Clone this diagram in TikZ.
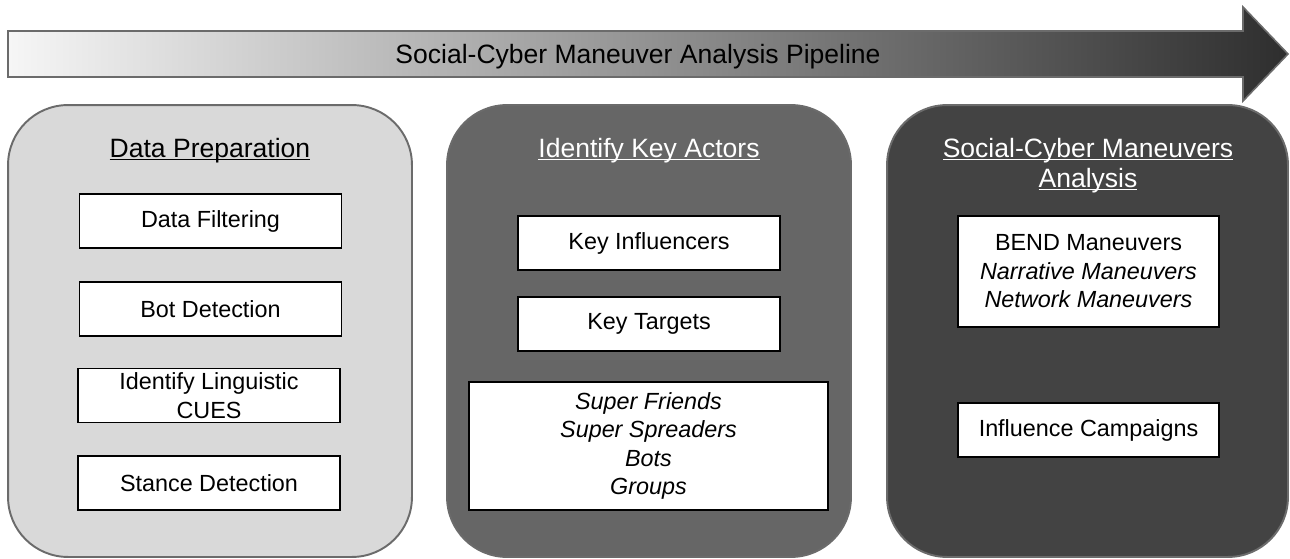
\documentclass[tikz,border=0pt]{standalone}
\usepackage{fontspec}
\setmainfont{Liberation Sans}
\usetikzlibrary{positioning}
\definecolor{prepfill}{HTML}{D9D9D9}
\definecolor{actorfill}{HTML}{666666}
\definecolor{manfill}{HTML}{434343}
\definecolor{rimgray}{HTML}{6B6B6B}
\definecolor{arrowleft}{HTML}{F6F6F6}
\definecolor{arrowright}{HTML}{2E2E2E}
\newcommand{\headline}[1]{\underline{\smash{#1}}}

\begin{document}
\begin{tikzpicture}[
    x=0.02cm, y=-0.02cm,
    panel/.style={draw=rimgray,line width=1.1pt,rounded corners=1.2cm,minimum width=8.08cm,minimum height=9.04cm},
    title/.style={anchor=base,align=center,font=\fontsize{15.1}{17}\selectfont},
    item/.style={draw=black,fill=white,line width=1.1pt,inner sep=1pt,minimum width=5.24cm,minimum height=1.08cm,align=center,font=\fontsize{13.3}{16.2}\selectfont}
  ]
  \useasboundingbox (0,0) rectangle (1290,558);

  %% Pipeline arrow
  \shade[left color=arrowleft,right color=arrowright]
    (8,31) -- (1243,31) -- (1243,7) -- (1288,54) -- (1243,101) -- (1243,77) -- (8,77) -- cycle;
  \draw[rimgray,line width=0.9pt]
    (8,31) -- (1243,31) -- (1243,7) -- (1288,54) -- (1243,101) -- (1243,77) -- (8,77) -- cycle;
  \node[title] (pipeline) at (638,63) {Social-Cyber Maneuver Analysis Pipeline};

  %% Panels
  \node[panel,fill=prepfill]  (prep)   at (210,331) {};
  \node[panel,fill=actorfill] (actors) at (649,331) {};
  \node[panel,fill=manfill,minimum width=8.02cm] (maneuvers) at (1087.5,331) {};

  %% Panel titles
  \node[title]       (preptitle)   at (210,157)  {\headline{Data Preparation}};
  \node[title,white] (actorstitle) at (649,157)  {\headline{Identify Key Actors}};
  \node[title,white] (mantitle)    at (1088,187) {\headline{Social-Cyber Maneuvers}\\\headline{Analysis}};

  %% Data preparation
  \node[item] (filter)   at (210.5,221)   {Data Filtering};
  \node[item] (bots)     at (210.5,309)   {Bot Detection};
  \node[item] (cues)     at (209,395.5)   {Identify Linguistic\\CUES};
  \node[item] (stance)   at (209,483)     {Stance Detection};

  %% Key actors
  \node[item] (influencers) at (649,243) {Key Influencers};
  \node[item] (targets)     at (649,324) {Key Targets};
  \node[item,minimum width=7.18cm,minimum height=2.56cm,font=\fontsize{13.3}{16.2}\selectfont\itshape] (groups) at (648.5,446)
    {Super Friends\\Super Spreaders\\Bots\\Groups};

  %% Maneuvers
  \node[item,minimum width=5.22cm,minimum height=2.22cm] (bend) at (1088.5,271.5)
    {BEND Maneuvers\\\textit{Narrative Maneuvers}\\\textit{Network Maneuvers}};
  \node[item,minimum width=5.22cm] (campaigns) at (1088.5,430) {Influence Campaigns};
\end{tikzpicture}
\end{document}
